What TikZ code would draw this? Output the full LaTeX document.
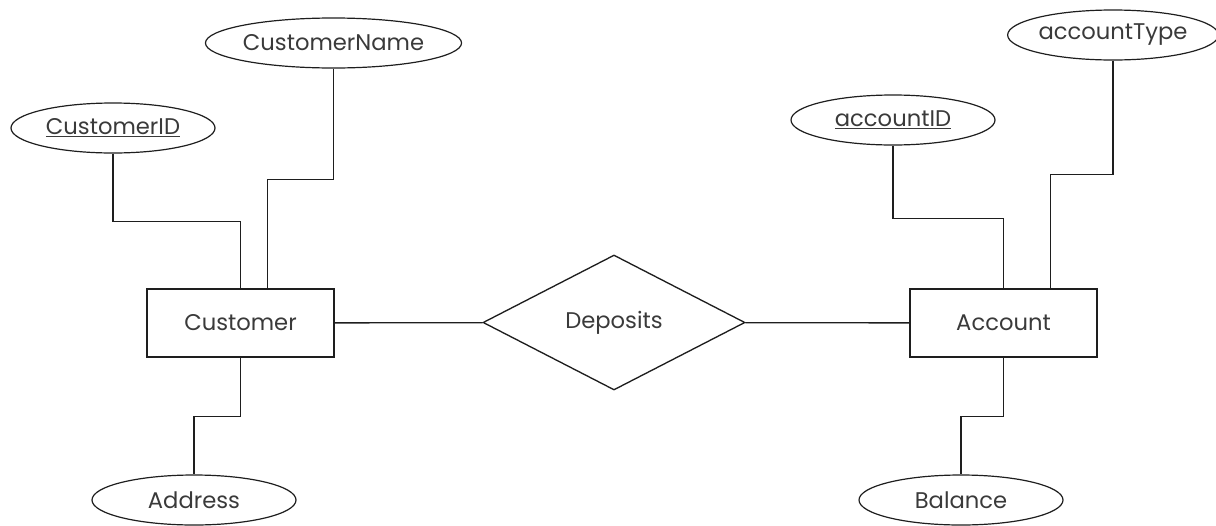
\documentclass[tikz,border=0pt]{standalone}
\usepackage{fontspec}
\setmainfont{Poppins}
\usetikzlibrary{shapes.geometric,calc}
\definecolor{inkgray}{HTML}{3A3A3A}
\definecolor{linegray}{HTML}{1E1E1E}

\begin{document}
\begin{tikzpicture}[x=0.75pt,y=-0.75pt,
  every node/.style={text=inkgray,font=\fontsize{17}{20}\selectfont},
  entity/.style={draw=linegray,line width=1pt,rectangle,inner sep=0pt,minimum width=140.25pt,minimum height=51pt},
  attrib/.style={draw=linegray,line width=0.9pt,ellipse,inner sep=0pt,minimum width=153pt,minimum height=37.5pt},
  relation/.style={draw=linegray,line width=1pt,diamond,inner sep=0pt,minimum width=196.5pt,minimum height=101.25pt},
  link/.style={draw=linegray,line width=1pt}]
\useasboundingbox (0,0) rectangle (1216,525);

% entities and relationship
\node[entity] (cust) at (240.5,323) {Customer};
\node[entity] (acc) at (1003.5,323) {Account};
\node[relation] (dep) at (614,322.5) {Deposits};

% attributes
\node[attrib] (cid) at (113,128) {\underline{CustomerID}};
\node[attrib] (cname) at (333.5,43) {CustomerName};
\node[attrib] (addr) at (194,500) {Address};
\node[attrib] (aid) at (893,120) {\underline{accountID}};
\node[attrib] (atype) at (1113,35) {accountType};
\node[attrib] (bal) at (961,500) {Balance};

% connectors
\draw[link] (cust) -- (dep) -- (acc);
\draw[link] (cid.south) -- ++(0,68) -| (cust.north);
\draw[link] (cname.south) -- ++(0,111) -| ($(cust.north)+(27,0)$);
\draw[link] (cust.south) -- ++(0,59) -| (addr.north);
\draw[link] (aid.south) -- ++(0,73) -| (acc.north);
\draw[link] (atype.south) -- ++(0,114) -| ($(acc.north)+(47,0)$);
\draw[link] (acc.south) -- ++(0,59) -| (bal.north);
\end{tikzpicture}
\end{document}
